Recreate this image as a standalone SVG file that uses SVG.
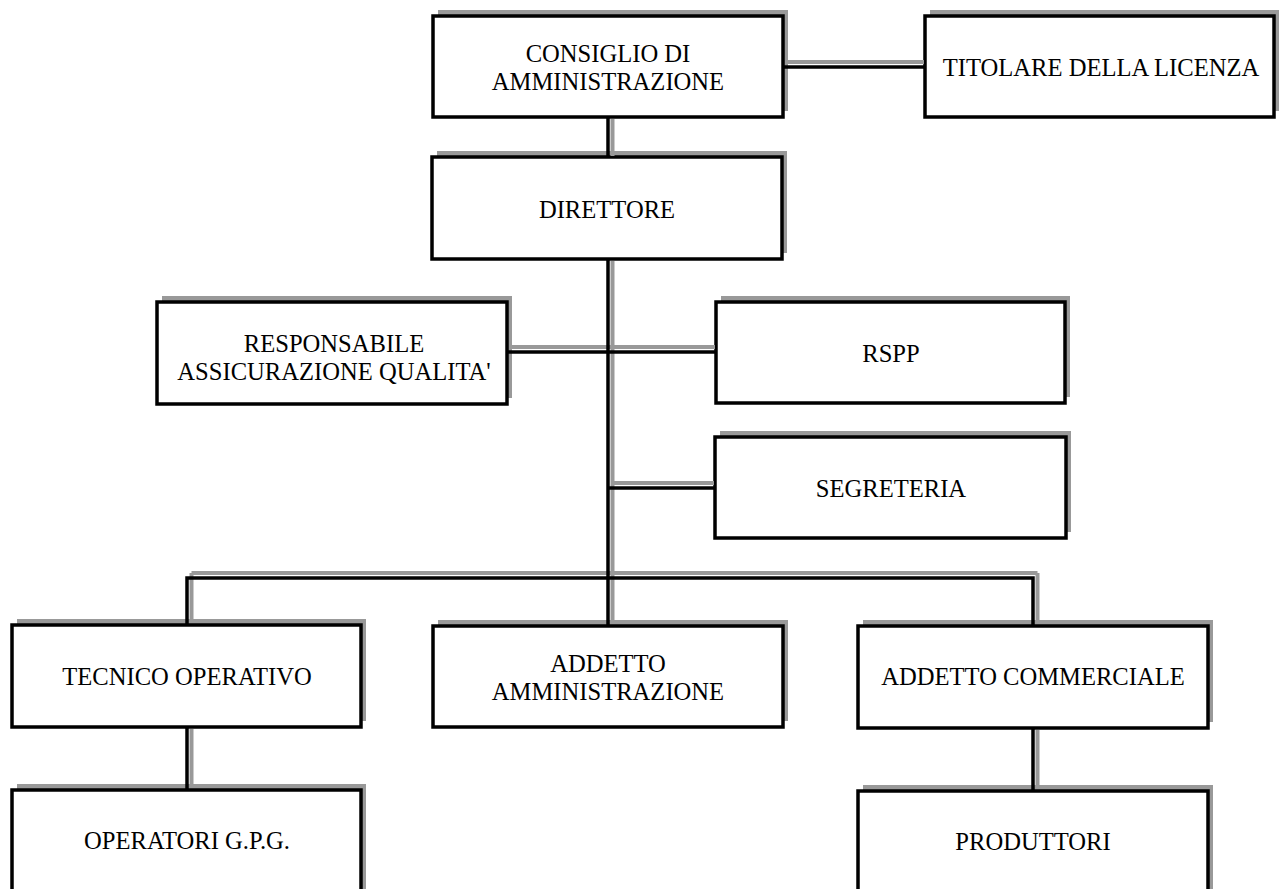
<svg xmlns="http://www.w3.org/2000/svg" width="1283" height="889" viewBox="0 0 1283 889">
<style>
.sh{fill:#999999;stroke:none}
.bx{fill:#ffffff;stroke:#000000;stroke-width:3.5}
.t{font-family:"Liberation Serif","Times New Roman",serif;font-size:24.6px;fill:#000000;text-anchor:middle}
.cs{fill:none;stroke:#999999;stroke-width:4}
.cl{fill:none;stroke:#000000;stroke-width:3.5}
</style>
<rect x="0" y="0" width="1283" height="889" fill="#ffffff"/>
<g id="consiglio">
<rect class="sh" x="438" y="10" width="350" height="101"/>
<rect class="bx" x="433" y="16" width="350" height="101"/>
<text class="t" x="608" y="62">CONSIGLIO DI</text>
<text class="t" x="608" y="90">AMMINISTRAZIONE</text>
</g>
<g id="titolare">
<rect class="sh" x="930" y="10" width="349" height="101"/>
<rect class="bx" x="925" y="16" width="349" height="101"/>
<text class="t" x="1101" y="76">TITOLARE DELLA LICENZA</text>
</g>
<g id="direttore">
<rect class="sh" x="437" y="151" width="350" height="102"/>
<rect class="bx" x="432" y="157" width="350" height="102"/>
<text class="t" x="607" y="218">DIRETTORE</text>
</g>
<g id="responsabile">
<rect class="sh" x="162" y="296" width="350" height="102"/>
<rect class="bx" x="157" y="302" width="350" height="102"/>
<text class="t" x="334" y="352">RESPONSABILE</text>
<text class="t" x="334" y="380">ASSICURAZIONE QUALITA'</text>
</g>
<g id="rspp">
<rect class="sh" x="721" y="296" width="349" height="101"/>
<rect class="bx" x="716" y="302" width="349" height="101"/>
<text class="t" x="891" y="362">RSPP</text>
</g>
<g id="segreteria">
<rect class="sh" x="720" y="431" width="351" height="101"/>
<rect class="bx" x="715" y="437" width="351" height="101"/>
<text class="t" x="891" y="497">SEGRETERIA</text>
</g>
<g id="tecnico">
<rect class="sh" x="17" y="619" width="349" height="102"/>
<rect class="bx" x="12" y="625" width="349" height="102"/>
<text class="t" x="187" y="685">TECNICO OPERATIVO</text>
</g>
<g id="amministrazione">
<rect class="sh" x="438" y="620" width="350" height="101"/>
<rect class="bx" x="433" y="626" width="350" height="101"/>
<text class="t" x="608" y="672">ADDETTO</text>
<text class="t" x="608" y="700">AMMINISTRAZIONE</text>
</g>
<g id="commerciale">
<rect class="sh" x="863" y="620" width="350" height="102"/>
<rect class="bx" x="858" y="626" width="350" height="102"/>
<text class="t" x="1033" y="685">ADDETTO COMMERCIALE</text>
</g>
<g id="operatori">
<rect class="sh" x="17" y="784" width="349" height="120"/>
<rect class="bx" x="12" y="790" width="349" height="120"/>
<text class="t" x="187" y="849">OPERATORI G.P.G.</text>
</g>
<g id="produttori">
<rect class="sh" x="863" y="785" width="350" height="120"/>
<rect class="bx" x="858" y="791" width="350" height="120"/>
<text class="t" x="1033" y="850">PRODUTTORI</text>
</g>
<g id="connectors">
<g id="connector-shadows">
<path class="cs" d="M785 62 H924"/>
<path class="cs" d="M612.5 119 V156"/>
<path class="cs" d="M612.5 261 V621"/>
<path class="cs" d="M509 347 H715"/>
<path class="cs" d="M612.5 483 H714"/>
<path class="cs" d="M191.5 573 H1037.5"/>
<path class="cs" d="M191.5 573 V620"/>
<path class="cs" d="M1037.5 573 V621"/>
<path class="cs" d="M191.5 729 V785"/>
<path class="cs" d="M1037.5 730 V786"/>
</g>
<g id="connector-lines">
<path class="cl" d="M783 67 H925"/>
<path class="cl" d="M608 117 V157"/>
<path class="cl" d="M608 259 V626"/>
<path class="cl" d="M507 352 H716"/>
<path class="cl" d="M608 488 H715"/>
<path class="cl" d="M187 625 V578 H1033 V626"/>
<path class="cl" d="M187 727 V790"/>
<path class="cl" d="M1033 728 V791"/>
</g>
</g>
</svg>
